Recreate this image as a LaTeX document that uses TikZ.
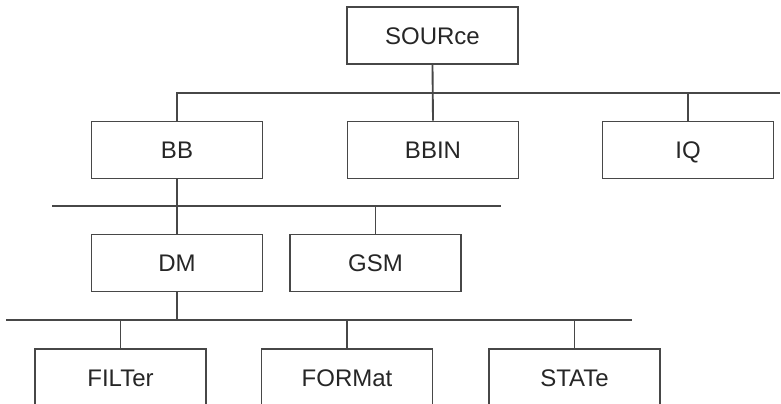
\documentclass[tikz,border=0pt]{standalone}
\usepackage{fontspec}
\setmainfont{Liberation Sans}
\begin{document}
\begin{tikzpicture}[x=0.75pt,y=-0.75pt,
  box/.style={draw=black!72,line width=1.4pt,rectangle,minimum width=128.25pt,minimum height=42.75pt,inner sep=0pt,
    text height=12.9pt,text depth=0pt,
    font=\fontsize{18}{21}\selectfont,text=black!85},
  wire/.style={draw=black!72,line width=1.4pt}]
\useasboundingbox (0,0) rectangle (781,403);
\clip (0,0) rectangle (781,403);
\node[box] (src) at (432.5,35.5) {SOURce};
\node[box] (bb) at (177,150) {BB};
\node[box] (bbin) at (433,150) {BBIN};
\node[box] (iq) at (688,150) {IQ};
\node[box] (dm) at (177,263) {DM};
\node[box] (gsm) at (375.5,263) {GSM};
\node[box] (filter) at (120.5,377.5) {FILTer};
\node[box] (format) at (347,377.5) {FORMat};
\node[box] (state) at (574.5,377.5) {STATe};
\coordinate (busA) at (780,93);
\coordinate (busBl) at (52,206);
\coordinate (busBr) at (501,206);
\coordinate (busCl) at (6,320);
\coordinate (busCr) at (632,320);
% top bus
\draw[wire] (src.south) -- (bbin.north);
\draw[wire] (bb.north) |- (busA);
\draw[wire] (iq.north) -- (iq.north |- busA);
% second bus
\draw[wire] (busBl) -- (busBr);
\draw[wire] (bb.south) -- (dm.north);
\draw[wire] (gsm.north) -- (gsm.north |- busBl);
% third bus
\draw[wire] (busCl) -- (busCr);
\draw[wire] (dm.south) -- (dm.south |- busCl);
\draw[wire] (filter.north) -- (filter.north |- busCl);
\draw[wire] (format.north) -- (format.north |- busCl);
\draw[wire] (state.north) -- (state.north |- busCl);
\end{tikzpicture}
\end{document}
